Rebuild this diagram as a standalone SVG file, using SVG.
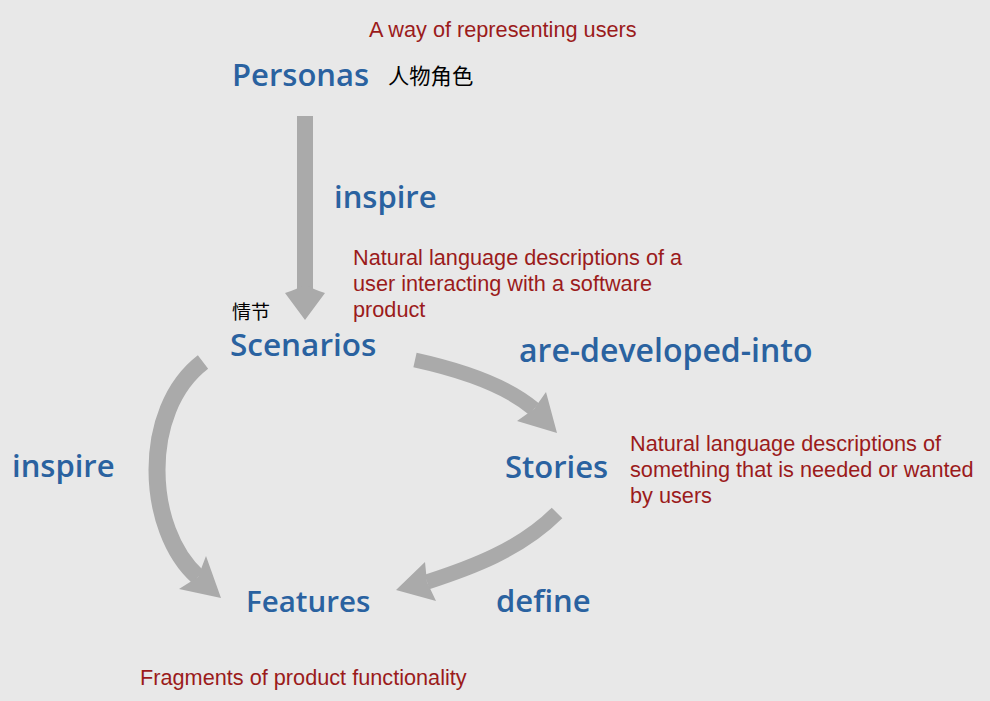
<svg xmlns="http://www.w3.org/2000/svg" width="990" height="701" viewBox="0 0 990 701">
<style>
.bg{fill:#e8e8e8}
.node{font-family:"Open Sans","Noto Sans",sans-serif;font-weight:600;fill:#2a62a0;font-size:31px}
.rel{font-family:"Open Sans","Noto Sans",sans-serif;font-weight:600;fill:#2a62a0;font-size:31px}
.note{font-family:"Liberation Sans",Arial,sans-serif;fill:#9b1b1b;font-size:21.7px}
.cjk{font-family:"Noto Sans CJK SC",sans-serif;fill:#000;font-size:19px}
.shaft{fill:none;stroke:#aaaaaa;stroke-linecap:butt}
.head{fill:#aaaaaa}
</style>
<rect class="bg" x="0" y="0" width="990" height="701"/>
<g id="connectors">
  <g id="c-personas-scenarios">
    <rect class="head" x="297" y="116" width="16" height="175"/>
    <path class="head" d="M285,293 Q298,289 305,284 Q312,289 325,293 L305,320 Z"/>
  </g>
  <g id="c-scenarios-features">
    <path class="shaft" stroke-width="17" d="M203,362 C140,410 145,530 198,577"/>
    <path class="head" d="M221,598 L179,589 L198,577 L206,556 Z"/>
  </g>
  <g id="c-scenarios-stories">
    <path class="shaft" stroke-width="15" d="M415,360 C465,371 507,386 534,409"/>
    <path class="head" d="M557,433 L517,421 L534,409 L546,392 Z"/>
  </g>
  <g id="c-stories-features">
    <path class="shaft" stroke-width="15" d="M557,513 C520,550 470,568 427,582"/>
    <path class="head" d="M396,590 L425,562 L427,582 L436,601 Z"/>
  </g>
</g>
<g id="labels">
  <text class="rel" x="334" y="208">inspire</text>
  <text class="rel" x="519" y="362" style="font-size:32px">are-developed-into</text>
  <text class="rel" x="12" y="477">inspire</text>
  <text class="rel" x="496" y="612">define</text>
</g>
<g id="personas">
  <text class="note" x="369" y="37">A way of representing users</text>
  <text class="node" x="232" y="86">Personas</text>
  <text class="cjk" x="388" y="84" style="font-size:21.3px">人物角色</text>
</g>
<g id="scenarios">
  <text class="cjk" x="232" y="319">情节</text>
  <text class="node" x="230" y="356" style="font-size:31.5px">Scenarios</text>
  <text class="note" x="353" y="265">Natural language descriptions of a</text>
  <text class="note" x="353" y="291">user interacting with a software</text>
  <text class="note" x="353" y="317">product</text>
</g>
<g id="stories">
  <text class="node" x="505" y="478">Stories</text>
  <text class="note" x="630" y="451">Natural language descriptions of</text>
  <text class="note" x="630" y="477">something that is needed or wanted</text>
  <text class="note" x="630" y="503">by users</text>
</g>
<g id="features">
  <text class="node" x="246" y="612" style="font-size:29.5px">Features</text>
  <text class="note" x="140" y="685">Fragments of product functionality</text>
</g>
</svg>
